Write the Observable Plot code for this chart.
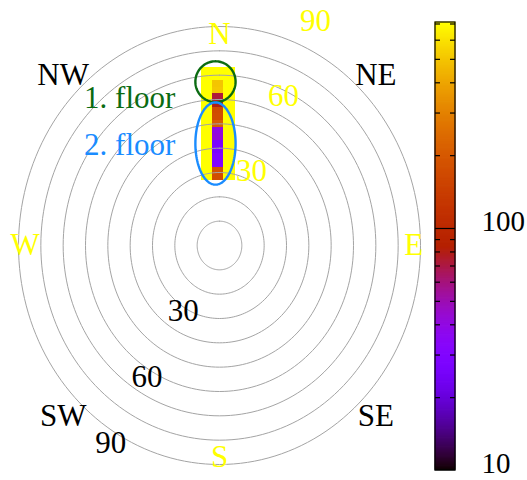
<!DOCTYPE html>
<html><head><meta charset="utf-8">
<script src="https://cdn.jsdelivr.net/npm/d3@7"></script>
<script src="https://cdn.jsdelivr.net/npm/@observablehq/plot@0.6"></script>
<style>
body{margin:0;background:#fff;}
#wrap{position:relative;width:527px;height:480px;overflow:hidden;}
#wrap svg{position:absolute;left:0;top:0;background:transparent;}
</style></head><body><div id="wrap"></div>
<script>
// ---- data ----
const ringRadii = [10, 20, 30, 40, 50, 60, 70, 80, 90];
const compassNames = ["N", "NE", "E", "SE", "S", "SW", "W", "NW"];
const compassAz = [0, 45, 90, 135, 180, 225, 270, 315];
const ringLabelsYellow = [30, 60, 90];
const ringLabelsBlack = [30, 60, 90];
// heat-map grid (degrees east / degrees north of zenith projection)
const colEdgesEW = [-8, -3, 2, 7];
const rowEdgesN = [26.7, 29.4, 32.2, 34.9, 37.7, 40.4, 43.1, 45.9, 48.6, 51.4, 54.1, 56.8, 59.6, 62.3, 65.1, 67.8, 70.5, 73.3];
// centre column values, bottom row first
const centerColumnValues = [175, 185, 30, 30, 27, 27, 42, 40, 210, 175, 170, 80, 72, 510, 500, 710, 710];
const sideColumnValue = 710;
// floors (ellipses)
const floorNames = ["1. floor", "2. floor"];
const floorColors = ["#0b6b12", "#1a8cff"];
const floorCenterEW = [-1.8, -1.8];
const floorCenterN = [67.3, 41.9];
const floorRadEW = [9.0, 9.0];
const floorRadN = [8.4, 16.9];
// colour bar
const cbDomain = [10, 710];
const cbMajor = [10, 100];
const cbMinor = [20, 30, 40, 50, 60, 70, 80, 90, 200, 300, 400, 500, 600, 700];

// gnuplot default palette (rgbformulae 7,5,15)
const pal = t => {
  t = Math.max(0, Math.min(1, t));
  const r = Math.sqrt(t), g = t * t * t, b = Math.max(0, Math.sin(2 * Math.PI * t));
  return d3.rgb(255 * r, 255 * g, 255 * b).formatHex();
};
const colorOpt = {type: "log", domain: cbDomain, interpolate: pal, clamp: true};
const FONT = "'Liberation Serif', 'DejaVu Serif', serif";
const FS = 31;
const rad = d => d * Math.PI / 180;

// build tables
const cells = [];
for (let i = 0; i < rowEdgesN.length - 1; i++) {
  for (let j = 0; j < colEdgesEW.length - 1; j++) {
    cells.push({x1: colEdgesEW[j], x2: colEdgesEW[j + 1], y1: rowEdgesN[i], y2: rowEdgesN[i + 1],
      v: j === 1 ? centerColumnValues[i] : sideColumnValue});
  }
}
const ringPts = [];
for (const r of ringRadii) for (let k = 0; k <= 360; k += 2)
  ringPts.push({r, x: r * Math.sin(rad(k)), y: r * Math.cos(rad(k))});
const ellPts = [];
floorNames.forEach((name, i) => {
  for (let k = 0; k <= 360; k += 3)
    ellPts.push({name, c: floorColors[i], x: floorCenterEW[i] + floorRadEW[i] * Math.cos(rad(k)),
      y: floorCenterN[i] + floorRadN[i] * Math.sin(rad(k))});
});
const compass = compassNames.map((n, i) => {
  const card = compassAz[i] % 90 === 0;
  const r = card ? 87 : 99;
  return {n, card, x: r * Math.sin(rad(compassAz[i])), y: r * Math.cos(rad(compassAz[i]))};
});
const yl = ringLabelsYellow.map(v => ({v, x: 1.13 * v * Math.sin(rad(25)), y: 1.13 * v * Math.cos(rad(25))}));
const bl = ringLabelsBlack.map(v => ({v, x: 1.05 * v * Math.sin(rad(211)), y: 1.05 * v * Math.cos(rad(211))}));
const floorLab = floorNames.map((n, i) => ({n, c: floorColors[i], x: floorCenterEW[i] - floorRadEW[i], y: floorCenterN[i]}));

const main = Plot.plot({
  width: 527, height: 480, margin: 0,
  style: {background: "transparent", fontFamily: FONT},
  x: {domain: [-90, 90], range: [18, 420], axis: null},
  y: {domain: [-90, 90], range: [464, 26], axis: null},
  color: colorOpt,
  marks: [
    Plot.rect(cells, {x1: "x1", x2: "x2", y1: "y1", y2: "y2", fill: "v", shapeRendering: "crispEdges"}),
    Plot.line(ringPts, {x: "x", y: "y", z: "r", stroke: "#a4a4a4", strokeWidth: 1}),
    Plot.line(ellPts, {x: "x", y: "y", z: "name", stroke: "c", strokeWidth: 2.4}),
    Plot.text(compass, {x: "x", y: "y", text: "n", fill: d => d.card ? "#ffff00" : "#000", fontSize: FS, fontFamily: FONT, lineAnchor: "middle"}),
    Plot.text(yl, {x: "x", y: "y", text: d => String(d.v), fill: "#ffff00", fontSize: FS, fontFamily: FONT, lineAnchor: "middle"}),
    Plot.text(bl, {x: "x", y: "y", text: d => String(d.v), fill: "#000", fontSize: FS, fontFamily: FONT, lineAnchor: "middle"}),
    Plot.text(floorLab.slice(0, 1), {x: "x", y: "y", text: "n", fill: "c", fontSize: FS, fontFamily: FONT, textAnchor: "end", lineAnchor: "middle", dx: -20, dy: 16}),
    Plot.text(floorLab.slice(1), {x: "x", y: "y", text: "n", fill: "c", fontSize: FS, fontFamily: FONT, textAnchor: "end", lineAnchor: "middle", dx: -20, dy: 2})
  ]
});

// colour bar
const nb = 400;
const bands = d3.range(nb).map(k => {
  const a = cbDomain[0] * Math.pow(cbDomain[1] / cbDomain[0], k / nb);
  const b = cbDomain[0] * Math.pow(cbDomain[1] / cbDomain[0], (k + 1) / nb);
  return {a, b, m: Math.sqrt(a * b)};
});
const cb = Plot.plot({
  width: 527, height: 480, margin: 0,
  style: {background: "transparent", fontFamily: FONT},
  x: {domain: [0, 1], range: [435, 455], axis: null},
  y: {type: "log", domain: cbDomain, range: [470, 22], axis: null},
  color: colorOpt,
  marks: [
    Plot.rect(bands, {x1: 0, x2: 1, y1: "a", y2: "b", fill: "m", inset: -0.4}),
    Plot.ruleY(cbMinor, {x1: 0, x2: 0.25, stroke: "#000", strokeWidth: 1.2}),
    Plot.ruleY(cbMinor, {x1: 0.75, x2: 1, stroke: "#000", strokeWidth: 1.2}),
    Plot.ruleY([100], {x1: 0, x2: 1, stroke: "#000", strokeWidth: 1.2}),
    Plot.rect([0], {x1: 0, x2: 1, y1: cbDomain[0], y2: cbDomain[1], fill: "none", stroke: "#000", strokeWidth: 1.2}),
    Plot.text(cbMajor, {x: 1, y: d => d, text: d => String(d), dx: 26, dy: 2, textAnchor: "start", lineAnchor: "bottom", fill: "#000", fontSize: 29, fontFamily: FONT})
  ]
});
const wrap = document.getElementById("wrap");
wrap.appendChild(main);
wrap.appendChild(cb);
</script></body></html>
